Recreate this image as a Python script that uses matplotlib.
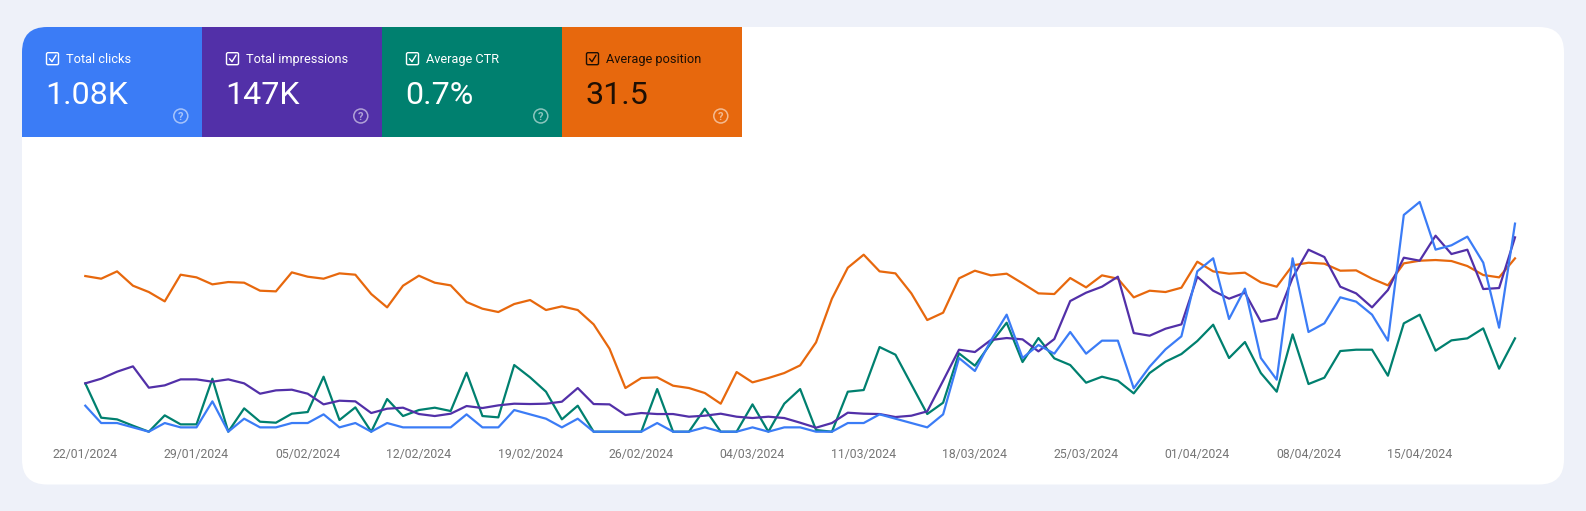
import matplotlib
matplotlib.use("Agg")
import matplotlib.pyplot as plt
import matplotlib.dates as mdates
from matplotlib.patches import FancyBboxPatch, Rectangle, Circle
import pandas as pd

plt.rcParams['font.family'] = ['Roboto', 'DejaVu Sans']

# Search Console has no visible y axes: clicks are counts, the other series are
# relative chart levels.
clicks = [6,2,2,1,0,2,1,1,7,0,3,1,1,2,2,4,1,2,0,2,1,1,1,1,
          4,1,1,5,4,3,1,3,0,0,0,0,2,0,0,1,0,0,1,0,1,1,0,0,2,2,4,3,2,1,4,
          17,14,21,27,17,20,18,23,18,21,21,10,
          15,19,22,37,40,26,33,17,12,40,23,25,31,30,27,21,50,53,42,43,45,39,24,48]
impressions = [145,159,180,196,132,139,157,157,150,157,145,114,124,126,114,82,93,91,56,69,72,53,47,54,
               77,71,79,84,83,84,90,131,83,82,50,56,53,53,45,48,54,45,41,45,41,27,12,26,57,54,53,44,48,61,153,
               246,239,275,281,277,241,278,392,417,435,465,296,
               288,309,322,465,423,399,417,330,340,462,546,524,435,415,373,425,522,513,588,533,546,428,431,583]
ctr = [145,42,37,18,0,49,22,22,159,0,70,30,27,54,59,165,35,73,0,98,47,65,72,62,
       177,47,43,200,163,120,37,78,0,0,0,0,128,0,0,69,0,0,82,0,84,128,5,0,120,125,254,231,142,53,87,
       235,198,265,327,209,281,220,200,147,165,153,115,
       176,210,233,272,321,221,269,176,120,292,143,162,242,246,246,168,325,351,243,274,280,310,189,280]
position = [467,459,481,438,419,391,471,463,442,449,447,423,421,478,465,459,475,471,413,373,438,468,447,439,
            389,369,359,383,395,365,376,365,322,249,131,161,163,138,131,116,84,179,148,161,176,199,268,399,492,531,481,475,415,335,357,
            460,483,469,474,445,415,413,461,433,469,459,403,
            423,419,432,510,481,474,477,448,435,499,507,504,483,484,459,439,505,513,515,512,497,470,463,520]
dates = pd.date_range("2024-01-22", periods=len(clicks), freq="D")
tick_dates = pd.date_range("2024-01-22", "2024-04-15", freq="7D")
tick_labels = [d.strftime("%d/%m/%Y") for d in tick_dates]

card_titles = ["Total clicks", "Total impressions", "Average CTR", "Average position"]
card_values = ["1.08K", "147K", "0.7%", "31.5"]
card_colors = ["#3b7cf6", "#5230a8", "#00806f", "#e7680d"]
card_text = ["white", "white", "white", "#1d0f04"]

W, H = 1586, 511
BG, BLUE, PURPLE, GREEN, ORANGE = "#eef1f9", card_colors[0], card_colors[1], card_colors[2], card_colors[3]
fig = plt.figure(figsize=(W / 100, H / 100), dpi=100, facecolor=BG)

# page chrome, in pixel coordinates
bg = fig.add_axes([0, 0, 1, 1], zorder=0)
bg.set_xlim(0, W); bg.set_ylim(H, 0); bg.axis("off")
panel = FancyBboxPatch((22, 27), 1542, 457.5, boxstyle="round,pad=0,rounding_size=25",
                       fc="white", ec="none")
bg.add_patch(panel)
tile_x = [22, 202, 382, 562]
for x, t, v, c, tc in zip(tile_x, card_titles, card_values, card_colors, card_text):
    r = Rectangle((x, 27), 180, 110, fc=c, ec="none")
    bg.add_patch(r)
    r.set_clip_path(panel)
    bg.add_patch(FancyBboxPatch((x + 24.5, 52.7), 12, 12, boxstyle="round,pad=0,rounding_size=1.5",
                                fc="none", ec=tc, lw=1))
    bg.plot([x + 27.5, x + 30, x + 34], [58.7, 61.7, 55.2], color=tc, lw=1, solid_capstyle="round")
    bg.text(x + 43.5, 59.3, t, color=tc, fontsize=9.2, va="center", ha="left")
    bg.text(x + 23.5, 92, v, color=tc, fontsize=23.2, va="center_baseline", ha="left")
    bg.add_patch(Circle((x + 158.8, 116), 7, fc="none", ec="white", alpha=0.55, lw=1.1))
    bg.text(x + 158.8, 116, "?", color="white", alpha=0.55, fontsize=8, va="center_baseline",
            ha="center", fontweight="bold")

# chart area, one pixel = 3 level units, one click = 4.33 pixels
left, right, base, top = 85.3, 1515, 431.7, 150.0
rect = [left / W, 1 - base / H, (right - left) / W, (base - top) / H]
ax = fig.add_axes(rect, zorder=1)
ax.patch.set_alpha(0)
ax.set_xlim(dates[0], dates[-1])
ax.set_ylim(0, (base - top) * 3)
axc = ax.twinx()
axc.patch.set_alpha(0)
axc.set_ylim(0, (base - top) / 4.335)

ax.plot(dates, position, color=ORANGE, lw=1.6, clip_on=False, zorder=2)
ax.plot(dates, ctr, color=GREEN, lw=1.6, clip_on=False, zorder=3)
ax.plot(dates, impressions, color=PURPLE, lw=1.6, clip_on=False, zorder=4)
axc.plot(dates, clicks, color=BLUE, lw=1.6, clip_on=False, zorder=5)

for a in (ax, axc):
    for s in a.spines.values():
        s.set_visible(False)
    a.set_yticks([])
ax.set_xticks(mdates.date2num(tick_dates))
ax.set_xticklabels(tick_labels, color="#757575", fontsize=8.8)
ax.tick_params(axis="x", length=0, pad=11.5)

fig.savefig("out.png", dpi=100, facecolor=BG)
